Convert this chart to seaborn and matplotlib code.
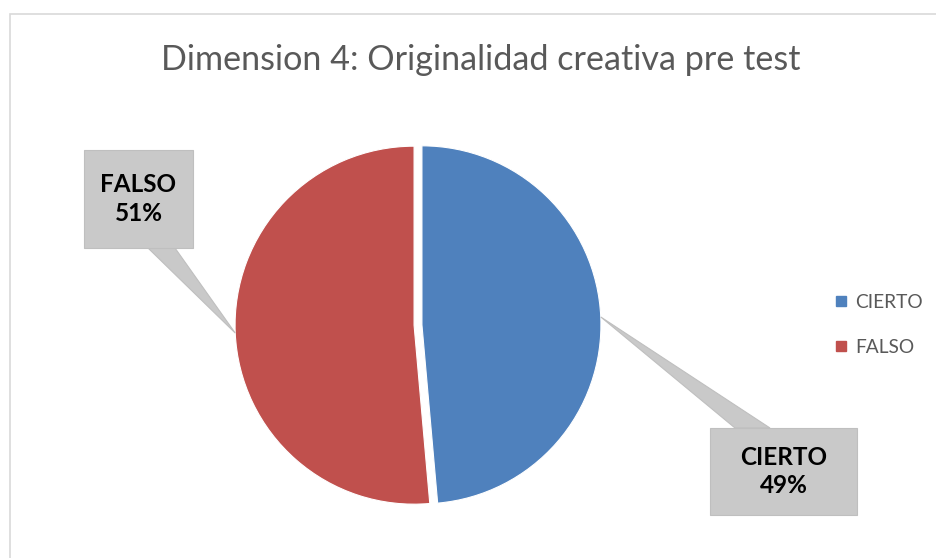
import seaborn as sns
import numpy as np
import matplotlib.pyplot as plt
from matplotlib.patches import Polygon, Rectangle
from matplotlib.lines import Line2D

categories = ['CIERTO', 'FALSO']
values = [48.6, 51.4]
colors = ['#4F81BD', '#C0504D']
title = 'Dimension 4: Originalidad creativa pre test'

sns.set_style('white')
plt.rcParams['font.family'] = ['Lato', 'DejaVu Sans']

W, H = 937, 558
fig = plt.figure(figsize=(W / 100, H / 100), dpi=100)
ax = fig.add_axes([0, 0, 1, 1])

# chart frame (Excel style light border)
ax.add_patch(Rectangle((10, -20), W + 20, H - 14 + 20, fill=False,
                       edgecolor='#D9D9D9', linewidth=1.2))

cx, cy, r = 418, H - 325, 179
gap = 0.022 * r
wedges, _ = ax.pie(values, colors=colors, startangle=90, counterclock=False,
                   center=(cx, cy), radius=r, explode=[gap, gap],
                   wedgeprops=dict(edgecolor='white', linewidth=0.8),
                   frame=True)
ax.set_xlim(0, W)
ax.set_ylim(0, H)
ax.set_aspect('equal')
ax.set_axis_off()

ax.text(481, H - 60, title, ha='center', va='center', fontsize=24.6,
        color='#595959')

# callout boxes: (x0, y0, x1, y1) in pixels from top, pointer base on box
boxes = {
    'CIERTO': ((710, 428, 857, 515), (735, 770)),
    'FALSO': ((84, 150, 193, 248), (148, 175)),
}
total = sum(values)
for w, cat, v in zip(wedges, categories, values):
    (x0, y0, x1, y1), (b0, b1) = boxes[cat]
    mid = np.deg2rad((w.theta1 + w.theta2) / 2)
    wx, wy = w.center
    tip = (wx + w.r * np.cos(mid), wy + w.r * np.sin(mid))
    by = y1 if cat == 'FALSO' else y0
    ax.add_patch(Polygon([(b0, H - by), (b1, H - by), tip], closed=True,
                         facecolor='#C9C9C9', edgecolor='#BFBFBF',
                         linewidth=0.8, zorder=3))
    ax.add_patch(Rectangle((x0, H - y1), x1 - x0, y1 - y0,
                           facecolor='#C9C9C9', edgecolor='#BFBFBF',
                           linewidth=0.8, zorder=4))
    ax.text((x0 + x1) / 2, H - (y0 + y1) / 2,
            '{}\n{:.0f}%'.format(cat, 100 * v / total),
            ha='center', va='center', fontsize=17.5, fontweight='bold',
            color='black', linespacing=1.3, zorder=5)

handles = [Line2D([0], [0], marker='s', linestyle='', markersize=6.5,
                  markerfacecolor=c, markeredgecolor=c) for c in colors]
ax.legend(handles, categories, loc='center left',
          bbox_to_anchor=(814 / W, 1 - 325 / H), frameon=False,
          fontsize=13.8, labelcolor='#595959', handletextpad=0.25,
          labelspacing=1.45, handlelength=1.0)

fig.savefig('out.png', dpi=100)
